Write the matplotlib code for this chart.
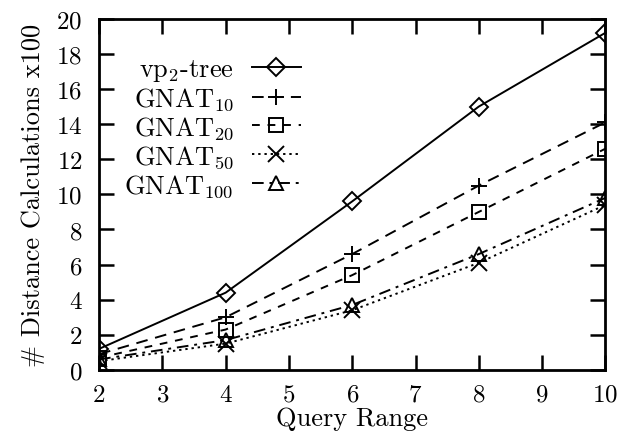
import matplotlib
matplotlib.use("Agg")
import matplotlib.pyplot as plt

plt.rcParams["font.family"] = "cmr10"
plt.rcParams["mathtext.fontset"] = "cm"
plt.rcParams["axes.formatter.use_mathtext"] = True

query_range = [2, 4, 6, 8, 10]
vp2_tree = [1.2, 4.4, 9.6, 15.0, 19.2]
gnat10 = [0.9, 3.0, 6.6, 10.5, 14.1]
gnat20 = [0.7, 2.3, 5.4, 9.0, 12.6]
gnat50 = [0.5, 1.5, 3.4, 6.1, 9.4]
gnat100 = [0.6, 1.7, 3.7, 6.6, 9.8]

fig = plt.figure(figsize=(6.19, 4.39), dpi=100)
ax = fig.add_axes([0.16, 0.155, 0.818, 0.80])

common = dict(color="black", markerfacecolor="none", markeredgecolor="black",
              markeredgewidth=1.4, linewidth=1.4)
ax.plot(query_range, vp2_tree, linestyle="-", marker="D", markersize=9,
        label=r"vp$_2$-tree", **common)
ax.plot(query_range, gnat10, linestyle=(0, (6, 4)), marker="+", markersize=12,
        label=r"GNAT$_{10}$", **common)
ax.plot(query_range, gnat20, linestyle=(0, (4, 4)), marker="s", markersize=10,
        label=r"GNAT$_{20}$", **common)
ax.plot(query_range, gnat50, linestyle=(0, (1.2, 2)), marker="x", markersize=11,
        label=r"GNAT$_{50}$", **common)
ax.plot(query_range, gnat100, linestyle=(0, (6, 3, 1.5, 3)), marker="^", markersize=10,
        label=r"GNAT$_{100}$", **common)

ax.set_xlim(2, 10)
ax.set_ylim(0, 20)
ax.set_xticks(range(2, 11))
ax.set_yticks(range(0, 21, 2))
ax.tick_params(direction="in", length=10.5, width=1.8, top=True, right=True,
               labelsize=18)
ax.tick_params(axis="x", pad=10)
ax.tick_params(axis="y", pad=12)
for s in ax.spines.values():
    s.set_linewidth(2)

ax.set_xlabel("Query Range", fontsize=19, labelpad=0)
ax.set_ylabel("# Distance Calculations x100", fontsize=19, labelpad=8)

ax.legend(loc="upper left", bbox_to_anchor=(0.05, 0.89), frameon=False,
          markerfirst=False, fontsize=19, handlelength=1.85,
          labelspacing=0.08, borderaxespad=0.0, borderpad=0.0,
          handletextpad=0.68)

fig.savefig("out.png", dpi=100)
